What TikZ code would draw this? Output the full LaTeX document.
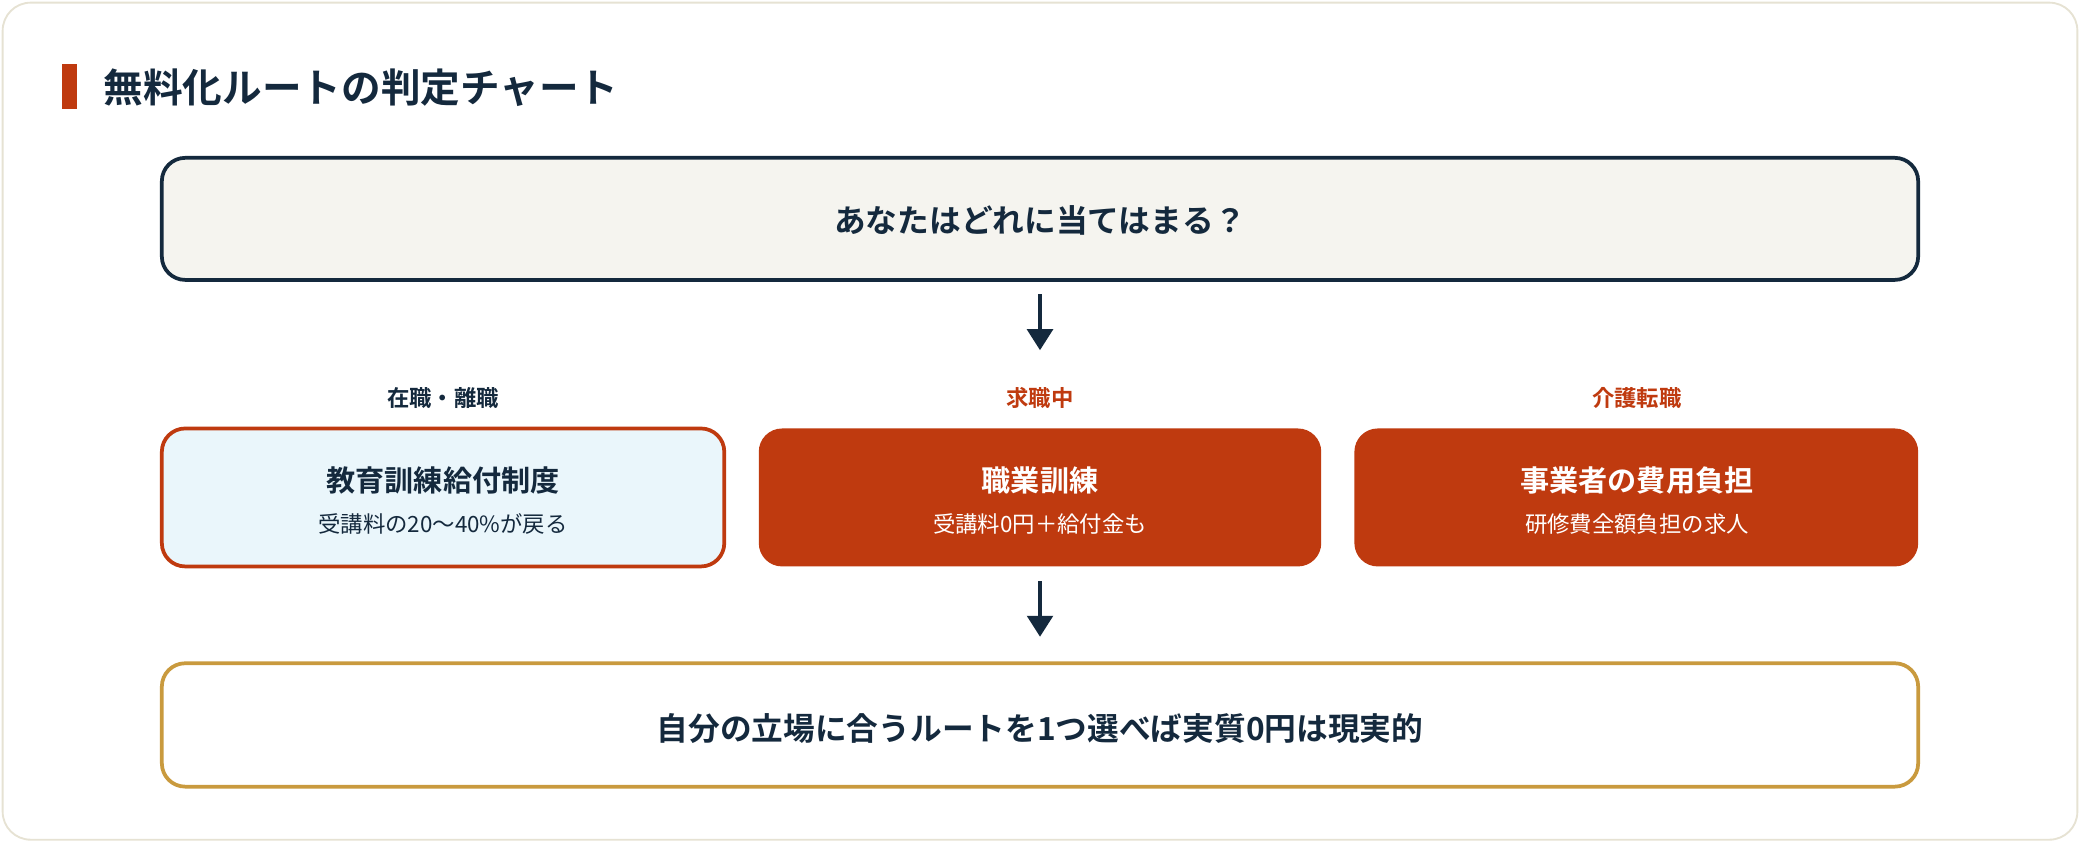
\documentclass[tikz,border=0pt]{standalone}
\usepackage{fontspec}
\setmainfont{Noto Sans CJK JP}
\newfontfamily\jpb{Noto Sans CJK JP Bold}
\usetikzlibrary{arrows.meta}
\definecolor{navy}{HTML}{14293D}
\definecolor{rust}{HTML}{BF3A0F}
\definecolor{gold}{HTML}{C99A3E}
\definecolor{cream}{HTML}{F5F4EF}
\definecolor{ice}{HTML}{EAF6FB}
\definecolor{frame}{HTML}{E6E2D3}
\tikzset{
 box/.style={rounded corners=10pt,line width=1.6pt},
 arr/.style={draw=navy,line width=1.6pt,-{Triangle[length=9pt,width=11pt]}},
 big/.style={font=\jpb\fontsize{13.6}{16}\selectfont,text=navy},
 lab/.style={font=\jpb\fontsize{9.6}{12}\selectfont},
 bt/.style={font=\jpb\fontsize{12.5}{15}\selectfont},
 bs/.style={font=\fontsize{9.6}{12}\selectfont},
}
\begin{document}
\begin{tikzpicture}[x=0.02cm,y=-0.02cm]
\useasboundingbox (0,0) rectangle (1568,635);
\draw[frame,fill=white,rounded corners=12pt,line width=0.8pt] (2,2) rectangle (1566,633);
\fill[rust] (47,48) rectangle (58,82);
\node[anchor=west,font=\jpb\fontsize{17}{20}\selectfont,text=navy] (title) at (72,66) {無料化ルートの判定チャート};
\draw[box,draw=navy,fill=cream] (122,119) rectangle (1446,211);
\node[big] (q) at (784,166) {あなたはどれに当てはまる？};
\coordinate (a1s) at (784,222); \coordinate (a1e) at (784,264);
\draw[arr] (a1s) -- (a1e);
\node[lab,text=navy] (l1) at (334,300) {在職・離職};
\node[lab,text=rust] (l2) at (784,300) {求職中};
\node[lab,text=rust] (l3) at (1234,300) {介護転職};
\draw[box,draw=rust,fill=ice] (122,323) rectangle (546,427);
\fill[rust,rounded corners=10pt] (572,323) rectangle (996,427);
\fill[rust,rounded corners=10pt] (1021,323) rectangle (1446,427);
\node[bt,text=navy] (b1) at (334,362) {教育訓練給付制度};
\node[bs,text=navy] (s1) at (334,395) {受講料の20〜40\%が戻る};
\node[bt,text=white] (b2) at (784,362) {職業訓練};
\node[bs,text=white] (s2) at (784,395) {受講料0円＋給付金も};
\node[bt,text=white] (b3) at (1234,362) {事業者の費用負担};
\node[bs,text=white] (s3) at (1234,395) {研修費全額負担の求人};
\coordinate (a2s) at (784,438); \coordinate (a2e) at (784,480);
\draw[arr] (a2s) -- (a2e);
\draw[box,draw=gold,fill=white] (122,500) rectangle (1446,593);
\node[big] (c) at (784,549) {自分の立場に合うルートを1つ選べば実質0円は現実的};
\end{tikzpicture}
\end{document}
